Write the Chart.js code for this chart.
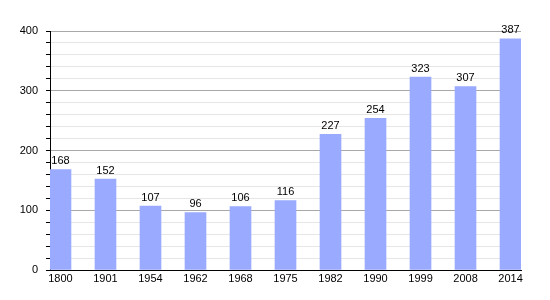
<!doctype html>
<html lang="en">
  <head>
    <meta charset="utf-8">
    <title>Population</title>
    <style>
      * { margin: 0; padding: 0; }
      body { background: #fff; }
      .chartBox { width: 550px; height: 300px; }
    </style>
  </head>
  <body>
    <div class="chartBox">
      <canvas id="myChart"></canvas>
    </div>
    <script src="https://cdn.jsdelivr.net/npm/chart.js/dist/chart.umd.min.js"></script>
    <script>
    // data
    const years = ['1800', '1901', '1954', '1962', '1968', '1975', '1982', '1990', '1999', '2008', '2014'];
    const population = [168, 152, 107, 96, 106, 116, 227, 254, 323, 307, 387];
    const yTicks = [0, 100, 200, 300, 400];
    const minorStep = 20;

    Chart.defaults.font.family = '"Liberation Sans", Arial, sans-serif';
    Chart.defaults.font.size = 11;
    Chart.defaults.color = '#000';

    // value above each bar
    const barValues = {
      id: 'barValues',
      afterDatasetsDraw(chart) {
        const ctx = chart.ctx;
        const meta = chart.getDatasetMeta(0);
        ctx.save();
        ctx.font = '11px "Liberation Sans", Arial, sans-serif';
        ctx.fillStyle = '#000';
        ctx.textAlign = 'center';
        ctx.textBaseline = 'bottom';
        meta.data.forEach((bar, i) => {
          ctx.fillText(population[i], bar.x, bar.y - 3);
        });
        ctx.restore();
      }
    };

    const data = {
      datasets: [{
        data: population.map((v, i) => ({ x: i, y: v })),
        backgroundColor: '#99aaff',
        borderWidth: 0,
        barThickness: 21
      }]
    };

    const config = {
      type: 'bar',
      data,
      options: {
        responsive: false,
        animation: false,
        layout: { padding: { top: 31, right: 29, left: 0, bottom: 0 } },
        plugins: { legend: { display: false }, tooltip: { enabled: false } },
        scales: {
          x: {
            type: 'linear',
            offset: false,
            min: -0.233,
            max: 10.233,
            grid: { display: false, drawTicks: false },
            border: { display: true, color: '#000', width: 1 },
            afterBuildTicks: s => { s.ticks = years.map((_, i) => ({ value: i })); },
            afterFit: s => { s.height = 30; },
            ticks: {
              autoSkip: false,
              maxRotation: 0,
              padding: 2,
              callback: v => years[v]
            }
          },
          y: {
            min: 0,
            max: 400,
            afterFit: s => { s.width = 50; },
            afterBuildTicks: s => {
              const t = [];
              for (let v = yTicks[0]; v <= yTicks[yTicks.length - 1]; v += minorStep) t.push({ value: v });
              s.ticks = t;
            },
            ticks: {
              autoSkip: false,
              padding: 8,
              callback: v => yTicks.includes(v) ? v : ''
            },
            grid: {
              color: c => c.tick && c.tick.value % 100 === 0 ? '#a8a8a8' : '#e6e6e6',
              tickColor: '#000',
              tickLength: 4
            },
            border: { display: true, color: '#000', width: 1 }
          }
        }
      },
      plugins: [barValues]
    };

    const canvas = document.getElementById('myChart');
    canvas.width = 550;
    canvas.height = 300;
    new Chart(canvas, config);
    </script>
  </body>
</html>
